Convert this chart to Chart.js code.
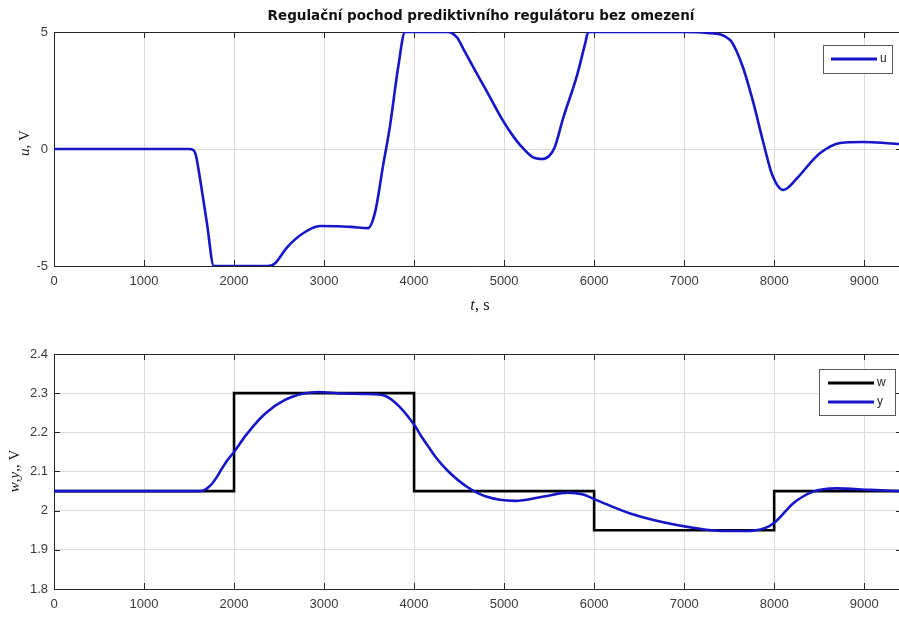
<!DOCTYPE html>
<html>
<head>
<meta charset="utf-8">
<script src="https://cdn.jsdelivr.net/npm/chart.js@4.4.1/dist/chart.umd.min.js"></script>
<style>
  html, body { margin: 0; padding: 0; background: #fff; overflow: hidden; width: 899px; height: 617px; }
  #wrap { position: relative; width: 899px; height: 617px; overflow: hidden; }
  canvas { position: absolute; left: 0; }
</style>
</head>
<body>
<div id="wrap">
  <canvas id="chartU" width="906" height="320" style="top:0px"></canvas>
  <canvas id="chartY" width="906" height="297" style="top:320px"></canvas>
</div>
<script>
// ---- data ----
const T_MAX = 9420;
const X_TICKS = [0, 1000, 2000, 3000, 4000, 5000, 6000, 7000, 8000, 9000];

// control signal u [V]
const tU = [0, 1500, 1550, 1575, 1600, 1650, 1700, 1775, 2370, 2450, 2589, 2767, 2956, 3141, 3300, 3489,
            3567, 3656, 3733, 3822, 3900, 4370, 4420, 4480, 4544, 4650, 4811, 4989, 5100, 5178, 5322,
            5422, 5500, 5560, 5656, 5811, 5900, 5935, 7000, 7256, 7511, 7580, 7656, 7767, 7878, 7978,
            8100, 8256, 8400, 8511, 8733, 8989, 9200, 9420];
const uVals = [0, 0, -0.05, -0.25, -0.75, -1.95, -3.2, -5, -5, -4.9, -4.2, -3.6, -3.29, -3.3, -3.33, -3.38,
               -2.7, -0.7, 1.0, 3.46, 5, 5, 4.95, 4.75, 4.3, 3.55, 2.44, 1.2, 0.55, 0.17, -0.36,
               -0.43, -0.3, 0.05, 1.32, 3.16, 4.5, 5, 5, 4.96, 4.66, 4.2, 3.46, 2.0, 0.3, -1.1,
               -1.75, -1.24, -0.6, -0.17, 0.26, 0.3, 0.27, 0.2];
const U_TICKS = [-5, 0, 5];

// reference w (piecewise constant, value holds from each change time)
const tW = [0, 2000, 4000, 6000, 8000, 9420];
const wVals = [2.05, 2.3, 2.05, 1.95, 2.05, 2.05];

// process output y [V]
const tY = [0, 1600, 1650, 1700, 1760, 1820, 1867, 1930, 2000, 2133, 2347, 2560, 2773, 2933, 3200, 3467,
            3680, 3840, 4016, 4080, 4160, 4250, 4373, 4587, 4800, 5120, 5440, 5707, 5867, 6027, 6400,
            6933, 7467, 7680, 7893, 8016, 8213, 8427, 8693, 9067, 9420];
const yVals = [2.05, 2.05, 2.051, 2.057, 2.07, 2.09, 2.108, 2.13, 2.15, 2.193, 2.248, 2.282, 2.299, 2.303,
               2.299, 2.298, 2.293, 2.265, 2.214, 2.19, 2.163, 2.134, 2.102, 2.061, 2.036, 2.025, 2.036,
               2.046, 2.042, 2.027, 1.993, 1.963, 1.948, 1.948, 1.955, 1.972, 2.019, 2.048, 2.057, 2.053, 2.05];
const Y_TICKS = [1.8, 1.9, 2, 2.1, 2.2, 2.3, 2.4];

const TITLE = 'Regulační pochod prediktivního regulátoru bez omezení';

// ---- styles ----
const BLUE = '#1616c8';
const GRID = '#dadada';
const SANS = '"Liberation Sans", Arial, sans-serif';
const SERIF = '"Liberation Serif", "Times New Roman", serif';

const zip = (xs, ys) => xs.map((x, i) => ({ x, y: ys[i] }));

// rich text (italic / upright runs), centred at (cx, cy)
function drawRich(ctx, parts, cx, cy, size, family, rotate) {
  ctx.save();
  ctx.translate(cx, cy);
  if (rotate) ctx.rotate(-Math.PI / 2);
  let w = 0;
  for (const p of parts) {
    ctx.font = (p.i ? 'italic ' : '') + size + 'px ' + family;
    w += ctx.measureText(p.t).width;
  }
  let x = -w / 2;
  ctx.textBaseline = 'middle';
  ctx.textAlign = 'left';
  ctx.fillStyle = '#1a1a1a';
  for (const p of parts) {
    ctx.font = (p.i ? 'italic ' : '') + size + 'px ' + family;
    ctx.fillText(p.t, x, 0);
    x += ctx.measureText(p.t).width;
  }
  ctx.restore();
}

// axes box with inward tick marks
const framePlugin = {
  id: 'frame',
  beforeDatasetsDraw(chart) {
    const { ctx, chartArea: a, scales } = chart;
    ctx.save();
    ctx.strokeStyle = '#262626';
    ctx.lineWidth = 1;
    ctx.beginPath();
    ctx.rect(Math.round(a.left) + 0.5, Math.round(a.top) + 0.5,
             Math.round(a.right - a.left), Math.round(a.bottom - a.top));
    ctx.stroke();
    const L = 6;
    ctx.beginPath();
    for (const t of scales.x.ticks) {
      const px = Math.round(scales.x.getPixelForValue(t.value)) + 0.5;
      ctx.moveTo(px, a.bottom); ctx.lineTo(px, a.bottom - L);
      ctx.moveTo(px, a.top); ctx.lineTo(px, a.top + L);
    }
    for (const t of scales.y.ticks) {
      const py = Math.round(scales.y.getPixelForValue(t.value)) + 0.5;
      ctx.moveTo(a.left, py); ctx.lineTo(a.left + L, py);
      ctx.moveTo(a.right, py); ctx.lineTo(a.right - L, py);
    }
    ctx.stroke();
    ctx.restore();
  }
};

// titles drawn on the canvas
const textPlugin = {
  id: 'texts',
  afterDraw(chart, args, opts) {
    const ctx = chart.ctx;
    if (opts.title) {
      ctx.save();
      ctx.font = 'bold 13.5px "DejaVu Sans", ' + SANS;
      ctx.fillStyle = '#111';
      ctx.textAlign = 'center';
      ctx.textBaseline = 'middle';
      ctx.fillText(opts.title.text, opts.title.x, opts.title.y);
      ctx.restore();
    }
    for (const l of opts.labels || []) {
      drawRich(ctx, l.parts, l.x, l.y, l.size, SERIF, l.rotate);
    }
  }
};

// boxed legend in the upper-right corner of the plot
const boxLegendPlugin = {
  id: 'boxLegend',
  afterDatasetsDraw(chart, args, opts) {
    const { ctx, chartArea: a } = chart;
    const ds = chart.data.datasets;
    const x0 = a.right - opts.right - opts.width;
    const y0 = a.top + opts.top;
    ctx.save();
    ctx.fillStyle = '#fff';
    ctx.fillRect(x0, y0, opts.width, opts.height);
    ctx.strokeStyle = '#5a5a5a';
    ctx.lineWidth = 1;
    ctx.strokeRect(Math.round(x0) + 0.5, Math.round(y0) + 0.5, opts.width, opts.height);
    ds.forEach((d, i) => {
      const cy = y0 + opts.firstRow + i * opts.rowGap;
      ctx.strokeStyle = d.borderColor;
      ctx.lineWidth = 3;
      ctx.beginPath();
      ctx.moveTo(x0 + opts.lineStart, cy);
      ctx.lineTo(x0 + opts.lineStart + opts.lineLen, cy);
      ctx.stroke();
      ctx.fillStyle = '#222';
      ctx.font = '12px ' + SANS;
      ctx.textAlign = 'left';
      ctx.textBaseline = 'middle';
      ctx.fillText(d.label, x0 + opts.lineStart + opts.lineLen + 3, cy);
    });
    ctx.restore();
  }
};

function xScale() {
  return {
    type: 'linear', min: 0, max: T_MAX,
    afterBuildTicks: s => { s.ticks = X_TICKS.map(v => ({ value: v })); },
    afterFit: s => { s.height = 30; },
    grid: { color: GRID, lineWidth: 1, drawTicks: false },
    border: { display: false },
    ticks: { font: { family: SANS, size: 13 }, color: '#3a3a3a', padding: 8, maxRotation: 0,
             callback: v => String(v) }
  };
}

function yScale(min, max, list) {
  return {
    type: 'linear', min, max,
    afterBuildTicks: s => { s.ticks = list.map(v => ({ value: v })); },
    afterFit: s => { s.width = 54; },
    grid: { color: GRID, lineWidth: 1, drawTicks: false },
    border: { display: false },
    ticks: { font: { family: SANS, size: 13 }, color: '#3a3a3a', padding: 6,
             callback: v => String(+v.toFixed(2)) }
  };
}

const common = {
  responsive: false,
  animation: false,
  events: [],
  elements: { point: { radius: 0 } }
};

new Chart(document.getElementById('chartU'), {
  type: 'line',
  data: {
    datasets: [{
      label: 'u',
      data: zip(tU, uVals),
      borderColor: BLUE, borderWidth: 2.6,
      cubicInterpolationMode: 'monotone', fill: false
    }]
  },
  options: {
    ...common,
    layout: { padding: { top: 32, left: 0, right: 4, bottom: 24 } },
    scales: { x: xScale(), y: yScale(-5, 5, U_TICKS) },
    plugins: {
      legend: { display: false },
      tooltip: { enabled: false },
      texts: {
        title: { text: TITLE, x: 481, y: 16 },
        labels: [
          { parts: [{ t: 'u', i: true }, { t: ', V' }], x: 25, y: 143, size: 15, rotate: true },
          { parts: [{ t: 't', i: true }, { t: ', s' }], x: 480, y: 306, size: 16.5 }
        ]
      },
      boxLegend: { right: 10, top: 13, width: 69, height: 28, firstRow: 14, rowGap: 0, lineStart: 8, lineLen: 46 }
    }
  },
  plugins: [framePlugin, textPlugin, boxLegendPlugin]
});

new Chart(document.getElementById('chartY'), {
  type: 'line',
  data: {
    datasets: [
      { label: 'w', data: zip(tW, wVals), borderColor: '#000', borderWidth: 2.6,
        stepped: 'before', fill: false, order: 1 },
      { label: 'y', data: zip(tY, yVals), borderColor: BLUE, borderWidth: 2.6,
        cubicInterpolationMode: 'monotone', fill: false, order: 0 }
    ]
  },
  options: {
    ...common,
    layout: { padding: { top: 34, left: 0, right: 4, bottom: 2 } },
    scales: {
      x: { ...xScale(), afterFit: s => { s.height = 26; } },
      y: yScale(1.8, 2.4, Y_TICKS)
    },
    plugins: {
      legend: { display: false },
      tooltip: { enabled: false },
      texts: {
        labels: [
          { parts: [{ t: 'w', i: true }, { t: ',' }, { t: 'y', i: true }, { t: ',, V' }], x: 15, y: 151, size: 15, rotate: true }
        ]
      },
      boxLegend: { right: 7, top: 15, width: 76, height: 46, firstRow: 14, rowGap: 19, lineStart: 9, lineLen: 46 }
    }
  },
  plugins: [framePlugin, textPlugin, boxLegendPlugin]
});
</script>
</body>
</html>
